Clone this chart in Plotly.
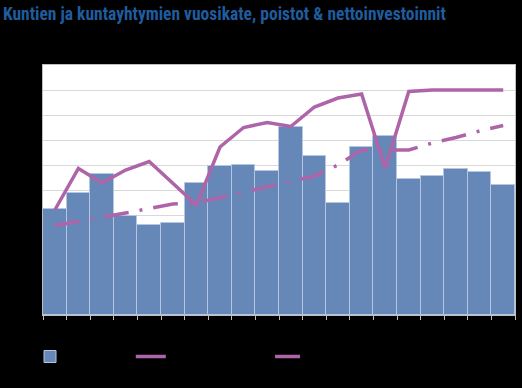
import plotly.graph_objects as go

years = [str(y) for y in range(1997, 2017)]
vuosikate = [2.12, 2.44, 2.82, 1.99, 1.80, 1.85, 2.64, 2.98, 3.00, 2.88,
             3.77, 3.18, 2.24, 3.36, 3.58, 2.72, 2.79, 2.92, 2.86, 2.60]
nettoinvestoinnit = [2.10, 2.93, 2.64, 2.90, 3.07, 2.64, 2.20, 3.36, 3.75, 3.85,
                     3.77, 4.16, 4.34, 4.42, 2.94, 4.47, 4.50, 4.50, 4.50, 4.50]
poistot = [1.79, 1.87, 1.96, 2.04, 2.13, 2.22, 2.24, 2.35, 2.45, 2.57,
           2.68, 2.78, 3.00, 3.30, 3.30, 3.30, 3.44, 3.55, 3.68, 3.79]

bar_color = "#6688B8"
line_color = "#AE64A8"

fig = go.Figure()
fig.add_trace(go.Bar(x=years, y=vuosikate, name="Vuosikate",
                     marker=dict(color=bar_color, line=dict(color="#B4C6E0", width=1)),
                     legend="legend"))
fig.add_trace(go.Scatter(x=years, y=nettoinvestoinnit, name="Nettoinvestoinnit",
                         mode="lines", line=dict(color=line_color, width=3.5),
                         legend="legend2"))
fig.add_trace(go.Scatter(x=years, y=poistot, name="Poistot",
                         mode="lines",
                         line=dict(color=line_color, width=3.5, dash="25px,11px,3px,11px"),
                         legend="legend3"))

leg_common = dict(orientation="h", xref="paper", yref="paper", yanchor="middle",
                  xanchor="left", font=dict(color="black", size=11),
                  bgcolor="rgba(0,0,0,0)")
fig.update_layout(
    width=522, height=388,
    paper_bgcolor="black", plot_bgcolor="white",
    margin=dict(l=43, r=7, t=65, b=73, autoexpand=False),
    bargap=0,
    showlegend=True,
    legend=dict(x=-0.0275, y=-0.166, **leg_common),
    legend2=dict(x=0.186, y=-0.166, **leg_common),
    legend3=dict(x=0.481, y=-0.166, **leg_common),
    xaxis=dict(type="category", showgrid=False, ticks="outside", tickson="boundaries",
               ticklen=4, tickcolor="#BFBFBF", tickfont=dict(color="black", size=9),
               showline=True, linecolor="#BFBFBF", mirror=True, automargin=False),
    yaxis=dict(range=[0, 5], dtick=0.5, showgrid=True, gridcolor="#D9D9D9",
               tickfont=dict(color="black", size=9), showline=True,
               linecolor="#BFBFBF", mirror=True, zeroline=False, automargin=False),
    annotations=[dict(text="<b>Kuntien ja kuntayhtymien vuosikate, poistot &amp; nettoinvestoinnit</b>",
                      xref="paper", yref="paper", x=-0.088, y=1.205, xanchor="left",
                      yanchor="middle", showarrow=False,
                      font=dict(family="Liberation Sans Narrow, Roboto Condensed, Arial Narrow, sans-serif",
                                size=17.5, color="#1F5C9E"))],
)

fig.write_html("out.html", config={"displayModeBar": False},
               post_script="document.body.style.margin='0';document.body.style.background='black';")
